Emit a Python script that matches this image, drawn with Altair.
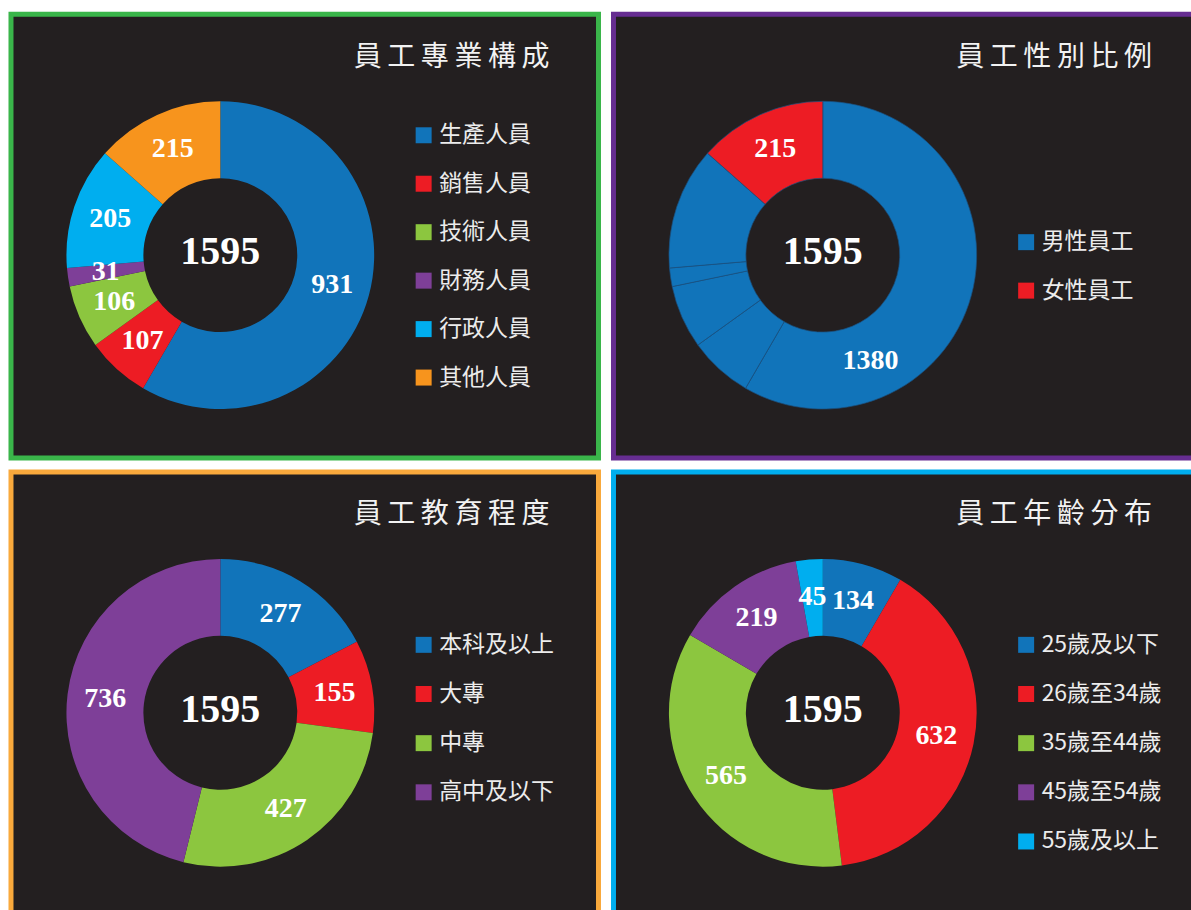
import altair as alt
import pandas as pd

BG = "#231f20"
BLUE = "#1174ba"
RED = "#ed1c24"
GREEN = "#8cc63f"
PURPLE = "#7e3f98"
CYAN = "#00aeef"
ORANGE = "#f7941d"

# Panel 1: 員工專業構成
prof_title = "員工專業構成"
prof_cats = ["生產人員", "銷售人員", "技術人員", "財務人員", "行政人員", "其他人員"]
prof_vals = [931, 107, 106, 31, 205, 215]
prof_colors = [BLUE, RED, GREEN, PURPLE, CYAN, ORANGE]

# Panel 2: 員工性別比例 (male slice is drawn in five sub-pieces, as in the source)
gender_title = "員工性別比例"
gender_cats = ["男性員工", "女性員工"]
gender_vals = [1380, 215]
gender_male_parts = [931, 107, 106, 31, 205]
gender_colors = [BLUE, RED]

# Panel 3: 員工教育程度
edu_title = "員工教育程度"
edu_cats = ["本科及以上", "大專", "中專", "高中及以下"]
edu_vals = [277, 155, 427, 736]
edu_colors = [BLUE, RED, GREEN, PURPLE]

# Panel 4: 員工年齡分布
age_title = "員工年齡分布"
age_cats = ["25歲及以下", "26歲至34歲", "35歲至44歲", "45歲至54歲", "55歲及以上"]
age_vals = [134, 632, 565, 219, 45]
age_colors = [BLUE, RED, GREEN, PURPLE, CYAN]

CX, CY = 209.5, 241
SP = "\u2009"


def panel(title, cats, vals, colors, border, legend_y, width, row_pad=24.5,
          arc_df=None, seg_stroke=None):
    lab_df = pd.DataFrame({"cat": cats, "val": vals, "ord": list(range(len(cats)))})
    if arc_df is None:
        arc_df = lab_df
    color = alt.Color(
        "cat:N",
        scale=alt.Scale(domain=cats, range=colors),
        sort=cats,
        legend=alt.Legend(orient="none", legendX=401.5, legendY=legend_y, title=None,
                          rowPadding=row_pad),
    )
    arc_kw = dict(outerRadius=154, innerRadius=77)
    if seg_stroke:
        arc_kw.update(stroke=seg_stroke, strokeWidth=0.7)
    arcs = alt.Chart(arc_df).mark_arc(**arc_kw).encode(
        theta=alt.Theta("val:Q", stack=True),
        color=color,
        order=alt.Order("ord:Q"),
        x=alt.value(CX),
        y=alt.value(CY),
    )
    labels = alt.Chart(lab_df).mark_text(
        radius=116, font="Liberation Serif", fontWeight="bold", fontSize=28,
        color="white", align="center", baseline="middle",
    ).encode(
        theta=alt.Theta("val:Q", stack=True),
        detail="cat:N",
        order=alt.Order("ord:Q"),
        text=alt.Text("val:Q", format="d"),
        x=alt.value(CX),
        y=alt.value(CY),
    )
    total = alt.Chart(pd.DataFrame({"t": [str(sum(vals))]})).mark_text(
        font="Liberation Serif", fontWeight="bold", fontSize=40, color="white",
        align="center", baseline="middle",
    ).encode(text="t:N", x=alt.value(CX), y=alt.value(CY - 3))
    ttl = alt.Chart(pd.DataFrame({"t": [SP.join(title)]})).mark_text(
        font="Noto Sans CJK TC", fontSize=28, color="#f2f2f2",
        align="right", baseline="middle",
    ).encode(text="t:N", x=alt.value(539), y=alt.value(43.5))
    return alt.layer(arcs, labels, total, ttl).properties(
        width=width, height=444,
        view=alt.ViewBackground(fill=BG, stroke=border, strokeWidth=5),
    )


p1 = panel(prof_title, prof_cats, prof_vals, prof_colors, "#3ab54a", 109.5, 588)

male_df = pd.DataFrame({
    "cat": [gender_cats[0]] * len(gender_male_parts) + [gender_cats[1]],
    "val": gender_male_parts + [gender_vals[1]],
    "ord": list(range(len(gender_male_parts) + 1)),
})
p2 = panel(gender_title, gender_cats, gender_vals, gender_colors, "#662d91", 216.5, 582,
           arc_df=male_df, seg_stroke="#1b4f7d")
p3 = panel(edu_title, edu_cats, edu_vals, edu_colors, "#f9a93c", 161.5, 588, row_pad=25.2)
p4 = panel(age_title, age_cats, age_vals, age_colors, "#00aeef", 161.5, 582, row_pad=25.2)

chart = alt.concat(
    p1, p2, p3, p4, columns=2,
    spacing=alt.RowColnumber(row=14, column=15),
    bounds="flush",
).resolve_scale(color="independent", theta="independent").resolve_legend(
    color="independent"
).configure(
    background="white",
    padding={"left": 8, "top": 11, "right": -7, "bottom": -8},
).configure_view(stroke=None).configure_legend(
    symbolType="square",
    symbolSize=256,
    symbolStrokeWidth=0,
    labelFont="Noto Sans CJK TC",
    labelFontSize=23,
    labelColor="#ececec",
    labelOffset=4,
    padding=0,
    labelLimit=300,
)

chart.save("out.html", embed_options={"renderer": "svg", "actions": False})
